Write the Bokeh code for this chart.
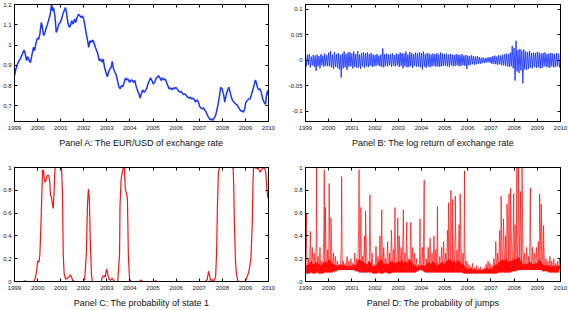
import numpy as np
from bokeh.plotting import figure
from bokeh.models import Range1d, FixedTicker, LinearAxis, GlobalInlineStyleSheet, CustomJSTickFormatter
from bokeh.layouts import row, column
from bokeh.embed import file_html
from bokeh.resources import INLINE

# ---------------- data ----------------
years = [1999, 2000, 2001, 2002, 2003, 2004, 2005, 2006, 2007, 2008, 2009, 2010]
year_labels = ["1999", "2000", "2001", "2002", "2003", "2004", "2005", "2006", "2007", "2008", "2009", "2010"]

# Panel A: EUR/USD exchange rate
a_year = [1999.00, 1999.06, 1999.13, 1999.20, 1999.27, 1999.34, 1999.42, 1999.46, 1999.52, 1999.57, 1999.63, 1999.69, 1999.75, 1999.82, 1999.87, 1999.93, 1999.99,
          2000.05, 2000.10, 2000.16, 2000.20, 2000.26, 2000.32, 2000.38, 2000.43, 2000.49, 2000.55, 2000.61, 2000.65, 2000.69, 2000.75, 2000.81, 2000.86, 2000.92, 2000.98,
          2001.04, 2001.09, 2001.15, 2001.21, 2001.25, 2001.31, 2001.37, 2001.42, 2001.48, 2001.54, 2001.60, 2001.65, 2001.71, 2001.77, 2001.83, 2001.89, 2001.94,
          2002.00, 2002.06, 2002.11, 2002.17, 2002.21, 2002.27, 2002.33, 2002.38, 2002.44, 2002.50, 2002.56, 2002.61, 2002.67, 2002.73, 2002.79, 2002.84, 2002.90, 2002.96,
          2003.02, 2003.07, 2003.13, 2003.19, 2003.23, 2003.29, 2003.35, 2003.40, 2003.46, 2003.52, 2003.58, 2003.63, 2003.69, 2003.75, 2003.81, 2003.86, 2003.92, 2003.98,
          2004.03, 2004.09, 2004.15, 2004.21, 2004.26, 2004.32, 2004.38, 2004.44, 2004.49, 2004.55, 2004.61, 2004.67, 2004.72, 2004.78, 2004.84, 2004.89, 2004.95,
          2005.01, 2005.07, 2005.12, 2005.18, 2005.24, 2005.30, 2005.35, 2005.41, 2005.47, 2005.53, 2005.58, 2005.64, 2005.70, 2005.76, 2005.81, 2005.87, 2005.93, 2005.98,
          2006.04, 2006.10, 2006.16, 2006.21, 2006.27, 2006.33, 2006.39, 2006.44, 2006.50, 2006.56, 2006.62, 2006.67, 2006.73, 2006.79, 2006.84, 2006.90, 2006.96,
          2007.02, 2007.07, 2007.13, 2007.19, 2007.25, 2007.30, 2007.36, 2007.42, 2007.48, 2007.53, 2007.59, 2007.65, 2007.71, 2007.76, 2007.82, 2007.88, 2007.93, 2007.99,
          2008.05, 2008.11, 2008.16, 2008.22, 2008.28, 2008.34, 2008.39, 2008.45, 2008.51, 2008.57, 2008.62, 2008.68, 2008.74, 2008.80, 2008.85, 2008.91, 2008.97,
          2009.02, 2009.08, 2009.14, 2009.20, 2009.25, 2009.31, 2009.37, 2009.43, 2009.47, 2009.53, 2009.58, 2009.64, 2009.70, 2009.76, 2009.81, 2009.87, 2009.91, 2009.96, 2010.00]
a_rate = [0.849, 0.882, 0.907, 0.923, 0.936, 0.956, 0.975, 0.959, 0.923, 0.943, 0.926, 0.913, 0.948, 0.989, 0.972, 1.008, 1.034,
          1.029, 1.054, 1.111, 1.095, 1.046, 1.062, 1.087, 1.103, 1.128, 1.152, 1.205, 1.169, 1.185, 1.144, 1.062, 1.079, 1.103, 1.111,
          1.128, 1.152, 1.169, 1.185, 1.161, 1.111, 1.087, 1.095, 1.120, 1.103, 1.128, 1.111, 1.136, 1.152, 1.144, 1.136, 1.144,
          1.128, 1.087, 1.054, 1.021, 0.989, 1.021, 1.013, 1.025, 1.013, 0.989, 0.972, 0.956, 0.923, 0.931, 0.915, 0.931, 0.890, 0.866,
          0.844, 0.866, 0.882, 0.890, 0.920, 0.882, 0.866, 0.854, 0.825, 0.795, 0.784, 0.800, 0.795, 0.816, 0.838, 0.828, 0.833, 0.816,
          0.825, 0.828, 0.816, 0.825, 0.800, 0.779, 0.762, 0.739, 0.759, 0.779, 0.767, 0.775, 0.784, 0.808, 0.825, 0.838, 0.825,
          0.808, 0.816, 0.833, 0.841, 0.849, 0.838, 0.825, 0.838, 0.828, 0.833, 0.816, 0.800, 0.784, 0.789, 0.779, 0.789, 0.784, 0.792,
          0.784, 0.775, 0.767, 0.772, 0.762, 0.756, 0.759, 0.751, 0.743, 0.739, 0.743, 0.734, 0.738, 0.730, 0.718, 0.730, 0.721,
          0.697, 0.690, 0.685, 0.690, 0.677, 0.669, 0.652, 0.641, 0.631, 0.636, 0.628, 0.641, 0.652, 0.677, 0.710, 0.751, 0.792, 0.784,
          0.759, 0.718, 0.751, 0.775, 0.792, 0.767, 0.743, 0.726, 0.718, 0.710, 0.707, 0.697, 0.685, 0.674, 0.677, 0.669, 0.685,
          0.718, 0.726, 0.734, 0.734, 0.751, 0.775, 0.800, 0.828, 0.816, 0.789, 0.779, 0.784, 0.759, 0.730, 0.718, 0.707, 0.751, 0.775, 0.751]

# Panel B: log returns, semi-monthly samples 1999.0 .. 2010.0
b_return = [0.008, -0.012, 0.011, -0.009, 0.012, -0.014, 0.007, -0.010, 0.010, -0.013, 0.009, -0.021, 0.011, -0.012, 0.008, -0.016, 0.012, -0.010, 0.009, -0.013, 0.013, -0.011, 0.010, -0.012,
            0.015, -0.012, 0.018, -0.014, 0.011, -0.017, 0.016, -0.013, 0.012, -0.015, 0.014, -0.018, 0.010, -0.034, 0.013, -0.016, 0.017, -0.014, 0.012, -0.019, 0.015, -0.013, 0.016, -0.012,
            0.013, -0.016, 0.017, -0.013, 0.012, -0.015, 0.018, -0.014, 0.011, -0.017, 0.014, -0.012, 0.016, -0.015, 0.013, -0.012, 0.015, -0.014, 0.012, -0.011, 0.014, -0.013, 0.011, -0.012,
            0.010, -0.011, 0.012, -0.010, 0.009, -0.012, 0.011, -0.013, 0.023, -0.014, 0.012, -0.011, 0.013, -0.012, 0.011, -0.010, 0.012, -0.013, 0.014, -0.011, 0.010, -0.012, 0.013, -0.010,
            0.012, -0.013, 0.015, -0.011, 0.014, -0.016, 0.013, -0.012, 0.017, -0.014, 0.011, -0.013, 0.016, -0.012, 0.014, -0.015, 0.012, -0.011, 0.015, -0.013, 0.013, -0.012, 0.016, -0.014,
            0.014, -0.018, 0.017, -0.013, 0.012, -0.015, 0.014, -0.012, 0.013, -0.014, 0.011, -0.012, 0.013, -0.011, 0.012, -0.013, 0.014, -0.012, 0.011, -0.013, 0.015, -0.012, 0.013, -0.011,
            0.012, -0.011, 0.013, -0.012, 0.011, -0.013, 0.012, -0.010, 0.011, -0.012, 0.010, -0.011, 0.012, -0.010, 0.011, -0.012, 0.010, -0.011, 0.012, -0.010, 0.009, -0.011, 0.010, -0.017,
            0.009, -0.010, 0.008, -0.009, 0.010, -0.008, 0.008, -0.009, 0.007, -0.008, 0.008, -0.007, 0.006, -0.007, 0.005, -0.006, 0.005, -0.005, 0.004, -0.005, 0.005, -0.004, 0.006, -0.005,
            0.006, -0.007, 0.008, -0.007, 0.009, -0.008, 0.007, -0.009, 0.010, -0.008, 0.009, -0.010, 0.011, -0.010, 0.012, -0.011, 0.013, -0.012, 0.012, -0.013, 0.015, -0.012, 0.028, -0.016,
            0.024, -0.040, 0.038, -0.022, 0.020, -0.025, 0.022, -0.020, 0.019, -0.045, 0.021, -0.018, 0.017, -0.019, 0.016, -0.017, 0.018, -0.015, 0.014, -0.016, 0.015, -0.013, 0.014, -0.015,
            0.016, -0.014, 0.015, -0.016, 0.013, -0.015, 0.014, -0.012, 0.015, -0.013, 0.012, -0.014, 0.013, -0.015, 0.014, -0.012, 0.013, -0.014, 0.012, -0.013, 0.014, -0.012, 0.013, -0.014,
            0.008]

# Panel C: probability of state 1
c_year = [1999.00, 1999.39, 1999.46, 1999.53, 1999.82, 1999.89, 1999.96, 2000.00, 2000.06, 2000.10, 2000.15, 2000.19, 2000.22, 2000.26, 2000.29, 2000.33, 2000.38, 2000.42,
          2000.48, 2000.52, 2000.56, 2000.61, 2000.65, 2000.68, 2000.71, 2000.74, 2000.76, 2000.96, 2001.04, 2001.08, 2001.11, 2001.15, 2001.21, 2001.28, 2001.37, 2001.42,
          2001.47, 2001.52, 2001.61, 2001.97, 2002.04, 2002.11, 2002.16, 2002.20, 2002.24, 2002.28, 2002.33, 2002.37, 2002.76, 2002.80, 2002.87, 2002.93, 2002.99, 2003.03,
          2003.09, 2003.16, 2003.23, 2003.29, 2003.35, 2003.47, 2003.55, 2003.57, 2003.62, 2003.68, 2003.72, 2003.76, 2003.80, 2003.85, 2003.89, 2003.93, 2003.98, 2004.05,
          2004.41, 2004.48, 2004.55, 2005.05, 2005.12, 2005.20, 2007.27, 2007.35, 2007.40, 2007.45, 2007.49, 2007.56, 2007.63, 2007.71, 2007.75, 2007.79, 2007.83, 2007.88,
          2008.42, 2008.47, 2008.49, 2008.52, 2008.57, 2008.61, 2008.67, 2008.72, 2008.99, 2009.07, 2009.14, 2009.18, 2009.24, 2009.30, 2009.33, 2009.35, 2009.57, 2009.63,
          2009.67, 2009.73, 2009.78, 2009.84, 2009.88, 2009.93, 2009.97, 2010.00]
c_prob = [0.0, 0.0, 0.005, 0.0, 0.0, 0.02, 0.09, 0.18, 0.17, 0.24, 0.53, 0.81, 0.98, 0.97, 0.90, 0.87, 0.90, 0.93,
          0.93, 0.89, 0.76, 0.73, 0.67, 0.64, 0.76, 0.93, 1.0, 1.0, 0.99, 0.76, 0.24, 0.07, 0.02, 0.03, 0.04, 0.06,
          0.04, 0.01, 0.0, 0.0, 0.02, 0.24, 0.67, 0.81, 0.73, 0.38, 0.07, 0.0, 0.0, 0.04, 0.05, 0.04, 0.11, 0.07,
          0.02, 0.01, 0.03, 0.01, 0.0, 0.0, 0.24, 0.67, 0.90, 0.97, 1.0, 0.99, 0.81, 0.77, 0.73, 0.24, 0.02, 0.0,
          0.0, 0.015, 0.0, 0.0, 0.006, 0.0, 0.0, 0.02, 0.09, 0.05, 0.01, 0.015, 0.003, 0.04, 0.24, 0.67, 0.96, 1.0,
          1.0, 0.99, 0.87, 0.53, 0.18, 0.07, 0.01, 0.0, 0.0, 0.04, 0.08, 0.12, 0.21, 0.53, 0.87, 1.0, 0.99, 0.96,
          0.97, 0.99, 1.0, 0.99, 0.96, 0.81, 0.74, 0.72]

# Panel D: probability of jumps, semi-monthly samples 1999.0 .. 2010.0 (alternating lows / highs)
d_prob = [0.07, 0.34, 0.07, 0.20, 0.07, 0.44, 0.08, 0.30, 0.07, 0.25, 0.07, 0.31, 0.08, 0.22, 0.07, 0.30, 0.07, 0.18, 0.07, 0.45, 0.08, 0.36, 0.08, 0.28,
          0.08, 0.40, 0.08, 0.30, 0.08, 0.25, 0.09, 0.22, 0.09, 0.18, 0.10, 0.15, 0.10, 0.30, 0.10, 0.18, 0.10, 0.16, 0.10, 0.22, 0.10, 0.18, 0.10, 0.20,
          0.10, 0.16, 0.10, 0.25, 0.09, 0.20, 0.09, 0.45, 0.08, 0.35, 0.08, 0.22, 0.08, 0.40, 0.08, 0.30, 0.08, 0.18, 0.08, 0.45, 0.08, 0.25, 0.07, 0.15,
          0.07, 0.31, 0.07, 0.22, 0.08, 0.40, 0.07, 0.50, 0.07, 0.30, 0.08, 0.20, 0.08, 0.35, 0.07, 0.25, 0.07, 0.45, 0.08, 0.28, 0.08, 0.32, 0.08, 0.25,
          0.08, 0.40, 0.08, 0.30, 0.08, 0.45, 0.08, 0.25, 0.08, 0.35, 0.08, 0.20, 0.08, 0.52, 0.08, 0.30, 0.08, 0.25, 0.08, 0.20, 0.09, 0.15, 0.10, 0.15,
          0.10, 0.30, 0.09, 0.25, 0.08, 0.20, 0.08, 0.30, 0.08, 0.38, 0.08, 0.25, 0.08, 0.40, 0.08, 0.28, 0.08, 0.20, 0.08, 0.22, 0.08, 0.30, 0.08, 0.35,
          0.08, 0.25, 0.08, 0.45, 0.08, 0.40, 0.08, 0.55, 0.08, 0.30, 0.08, 0.45, 0.08, 0.28, 0.08, 0.50, 0.08, 0.35, 0.08, 0.25, 0.07, 0.30, 0.07, 0.18,
          0.07, 0.15, 0.07, 0.13, 0.07, 0.16, 0.07, 0.12, 0.07, 0.14, 0.07, 0.12, 0.07, 0.13, 0.07, 0.11, 0.07, 0.12, 0.07, 0.15, 0.07, 0.18, 0.07, 0.16,
          0.07, 0.14, 0.07, 0.20, 0.07, 0.35, 0.07, 0.25, 0.08, 0.45, 0.08, 0.40, 0.08, 0.55, 0.08, 0.40, 0.08, 0.60, 0.08, 0.35, 0.08, 0.45, 0.09, 0.40,
          0.09, 0.50, 0.09, 0.40, 0.10, 0.60, 0.10, 0.45, 0.10, 0.35, 0.10, 0.25, 0.10, 0.30, 0.10, 0.22, 0.10, 0.43, 0.10, 0.30, 0.10, 0.25, 0.10, 0.30,
          0.10, 0.35, 0.10, 0.52, 0.10, 0.30, 0.09, 0.25, 0.09, 0.20, 0.09, 0.18, 0.08, 0.22, 0.08, 0.18, 0.08, 0.20, 0.08, 0.16, 0.08, 0.18, 0.08, 0.20,
          0.12]
# upper edge of the dense (solid) part of the jump-probability band, monthly 1999.0 .. 2010.0
d_band_top = [0.15, 0.14, 0.16, 0.18, 0.15, 0.16, 0.17, 0.15, 0.14, 0.16, 0.18, 0.16,
              0.20, 0.18, 0.16, 0.15, 0.14, 0.14, 0.15, 0.15, 0.14, 0.14, 0.13, 0.14,
              0.13, 0.15, 0.14, 0.18, 0.20, 0.18, 0.17, 0.16, 0.15, 0.18, 0.16, 0.13,
              0.14, 0.15, 0.18, 0.20, 0.17, 0.15, 0.16, 0.15, 0.18, 0.17, 0.16, 0.16,
              0.18, 0.17, 0.19, 0.16, 0.18, 0.16, 0.20, 0.17, 0.15, 0.14, 0.13, 0.13,
              0.15, 0.14, 0.14, 0.16, 0.17, 0.15, 0.18, 0.16, 0.14, 0.15, 0.16, 0.17,
              0.15, 0.18, 0.19, 0.20, 0.17, 0.18, 0.16, 0.19, 0.17, 0.15, 0.15, 0.12,
              0.11, 0.11, 0.12, 0.10, 0.11, 0.10, 0.10, 0.10, 0.10, 0.11, 0.12, 0.11,
              0.11, 0.12, 0.15, 0.14, 0.17, 0.18, 0.20, 0.18, 0.20, 0.17, 0.18, 0.18,
              0.20, 0.19, 0.22, 0.20, 0.17, 0.15, 0.16, 0.15, 0.18, 0.16, 0.15, 0.16,
              0.16, 0.20, 0.17, 0.15, 0.14, 0.14, 0.14, 0.13, 0.14, 0.13, 0.14, 0.14,
              0.14]
# large jump-probability spikes
d_spike_year = [1999.04, 1999.48, 1999.81, 1999.86, 2000.02, 2000.10, 2000.56, 2001.31, 2001.39, 2001.59, 2001.78, 2002.29, 2002.86, 2002.98,
                2003.22, 2003.37, 2003.94, 2004.12, 2004.69, 2005.17, 2005.27, 2005.35, 2005.46, 2005.67, 2005.86, 2007.44, 2007.69, 2007.78,
                2007.85, 2007.98, 2008.12, 2008.19, 2008.27, 2008.34, 2008.70, 2009.10, 2009.17, 2009.27]
d_spike_prob = [0.60, 1.00, 0.98, 0.65, 0.86, 0.56, 0.92, 0.98, 0.65, 0.62, 0.76, 0.63, 0.65, 0.56,
                0.63, 0.52, 0.55, 0.89, 0.66, 0.69, 0.80, 0.72, 0.75, 0.77, 0.97, 0.75, 0.68, 0.77,
                0.82, 0.77, 1.00, 1.00, 0.79, 1.00, 0.82, 0.77, 0.68, 0.49]

a_ticks = [0.7, 0.8, 0.9, 1, 1.1, 1.2]
a_tick_labels = ["0.7", "0.8", "0.9", "1", "1.1", "1.2"]
b_ticks = [-0.1, -0.05, 0, 0.05, 0.1]
b_tick_labels = ["-0.1", "-0.05", "0", "0.05", "0.1"]
p_ticks = [0, 0.2, 0.4, 0.6, 0.8, 1]
p_tick_labels = ["0", "0.2", "0.4", "0.6", "0.8", "1"]

# semi-monthly sample dates for panels B and D
grid_year = 1999 + np.arange(len(b_return)) / 24.0
month_year = grid_year[0::2]
d_low = np.array(d_prob)[0::2]

FONT = "Liberation Sans"


def mirror_axis(ticks):
    # tick marks only (no labels) for the top / right frame sides
    return LinearAxis(ticker=FixedTicker(ticks=ticks),
                      formatter=CustomJSTickFormatter(code="return ''"),
                      major_label_text_font_size="1px",
                      major_label_standoff=0, major_tick_in=3, major_tick_out=0,
                      minor_tick_in=0, minor_tick_out=0, axis_line_color="black")


def make_panel(title, y_lo, y_hi, yticks, ylabels, left, right, top, bottom):
    p = figure(width=284, height=155, x_range=Range1d(1999, 2010), y_range=Range1d(y_lo, y_hi),
               output_backend="svg", toolbar_location=None,
               min_border_left=left, min_border_right=right, min_border_top=top, min_border_bottom=bottom)
    p.grid.visible = False
    p.outline_line_color = "black"
    p.outline_line_width = 1
    p.background_fill_color = "white"
    p.border_fill_color = "white"
    xa = p.xaxis[0]
    ya = p.yaxis[0]
    xa.ticker = FixedTicker(ticks=years)
    xa.major_label_overrides = dict(zip(years, year_labels))
    ya.ticker = FixedTicker(ticks=yticks)
    ya.major_label_overrides = dict(zip(yticks, ylabels))
    for ax in (xa, ya):
        ax.major_tick_in = 3
        ax.major_tick_out = 0
        ax.minor_tick_in = 0
        ax.minor_tick_out = 0
        ax.axis_line_color = "black"
        ax.major_tick_line_color = "black"
        ax.major_label_text_font = FONT
        ax.major_label_text_font_size = "6px"
        ax.major_label_text_color = "#111111"
    xa.major_label_standoff = 4
    ya.major_label_standoff = 3
    xa.axis_label = title
    xa.axis_label_text_font = FONT
    xa.axis_label_text_font_size = "9px"
    xa.axis_label_text_font_style = "normal"
    xa.axis_label_text_color = "#111111"
    xa.axis_label_standoff = 5
    p.add_layout(mirror_axis(years), "above")
    p.add_layout(mirror_axis(yticks), "right")
    return p


pA = make_panel("Panel A: The EUR/USD of exchange rate", 0.623, 1.2, a_ticks, a_tick_labels, 12, 16, 4, 34)
pA.line(a_year, a_rate, line_color="#1a35ff", line_width=1.5)

pB = make_panel("Panel B: The log return of exchange rate", -0.12, 0.109, b_ticks, b_tick_labels, 21, 8, 4, 34)
pB.line(grid_year, b_return, line_color="#1a35ff", line_width=0.9)

pC = make_panel("Panel C: The probability of state 1", 0, 1, p_ticks, p_tick_labels, 12, 16, 12, 27)
pC.line(c_year, c_prob, line_color="#ff1010", line_width=1.2)

pD = make_panel("Panel D: The probability of jumps", 0, 1, p_ticks, p_tick_labels, 21, 8, 11, 27)
pD.varea(x=month_year, y1=d_low, y2=d_band_top, fill_color="#ff0000", fill_alpha=0.9)
d_x = np.concatenate([grid_year, np.array(d_spike_year)])
d_y = np.concatenate([np.array(d_prob), np.array(d_spike_prob)])
order = np.argsort(d_x, kind="stable")
pD.line(d_x[order], d_y[order], line_color="#ff0000", line_width=0.9, line_alpha=0.75)

layout = column(row(pA, pB, spacing=0), row(pC, pD, spacing=0), spacing=0)
layout.stylesheets = [GlobalInlineStyleSheet(css="html, body { margin: 0 !important; padding: 0 !important; overflow: hidden; }")]

open("out.html", "w").write(file_html(layout, INLINE))
